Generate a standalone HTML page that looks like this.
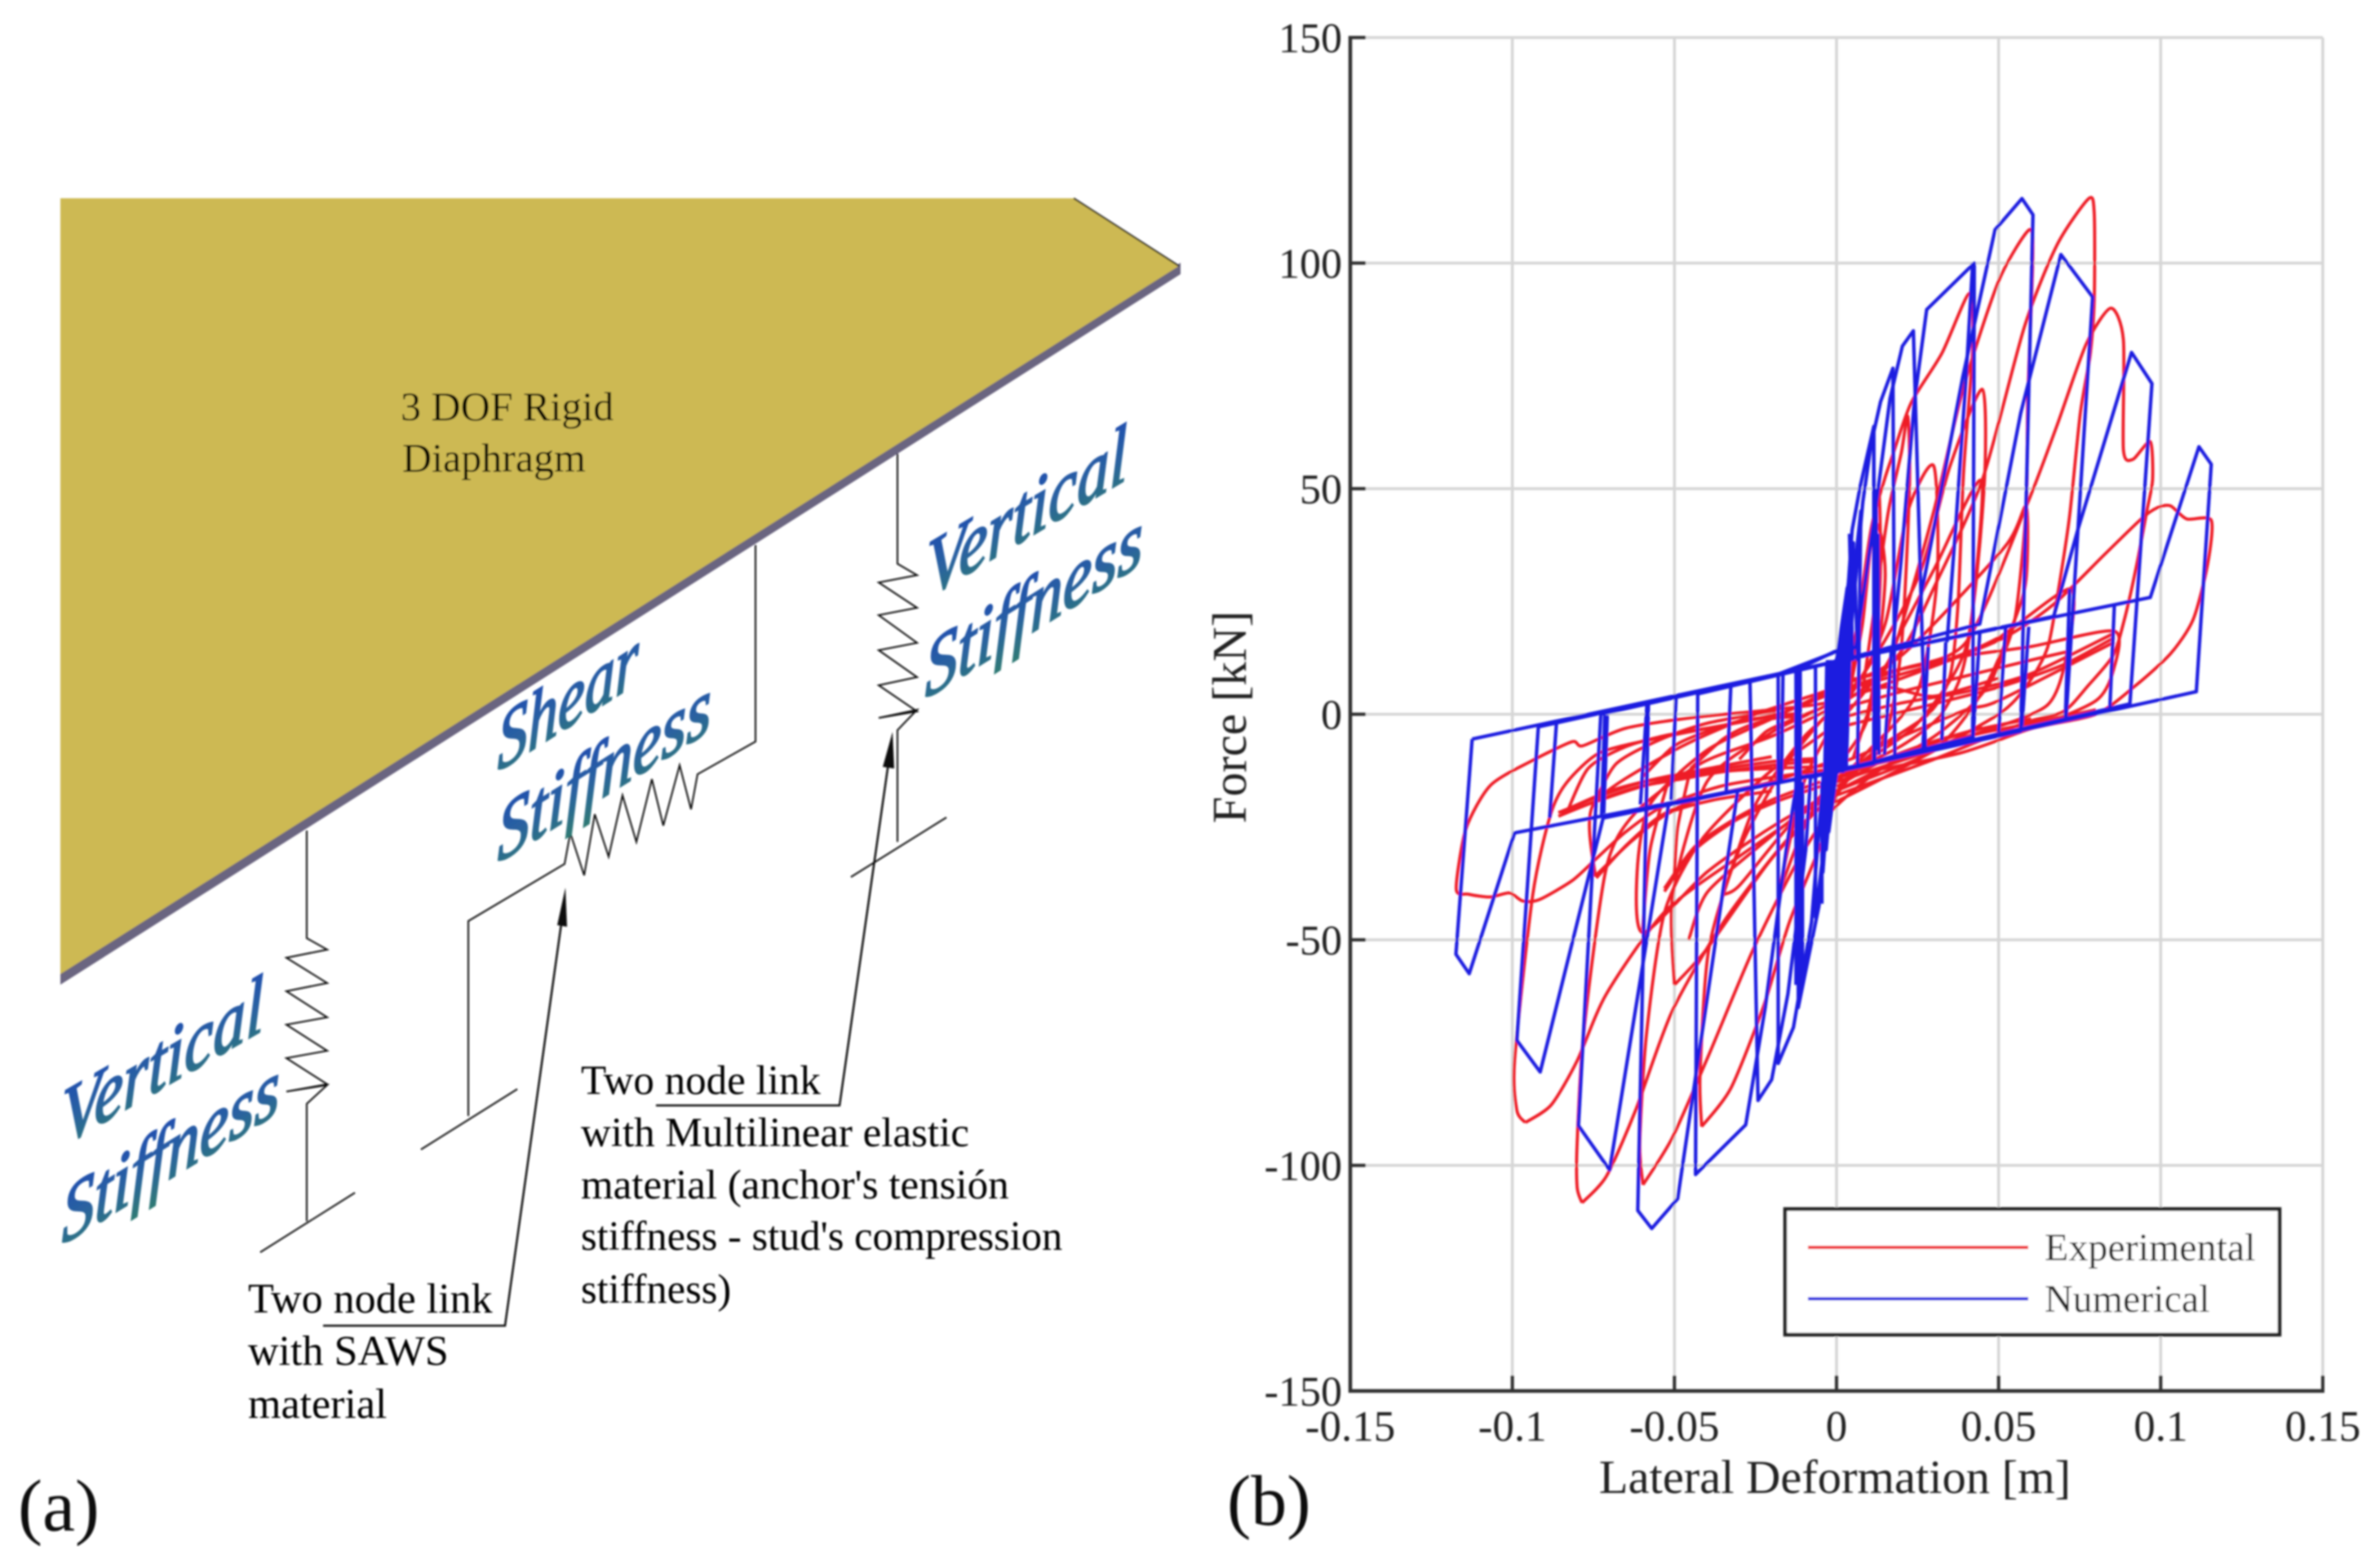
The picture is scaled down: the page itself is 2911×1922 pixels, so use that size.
<!DOCTYPE html>
<html lang="en">
<head>
<meta charset="utf-8">
<title>Rigid diaphragm model and hysteresis comparison</title>
<style>
html,body{margin:0;padding:0;background:#fff}
svg{display:block}
text{font-family:"Liberation Serif",serif}
</style>
</head>
<body>
<svg id="fig" xmlns="http://www.w3.org/2000/svg" width="2911" height="1922" viewBox="0 0 2911 1922">
<defs>
<linearGradient id="wa" x1="0" y1="0" x2="0" y2="1">
<stop offset="0" stop-color="#1c48b4"/><stop offset="0.55" stop-color="#2a62a0"/><stop offset="1" stop-color="#2f7a74"/>
</linearGradient>
<filter id="soft" x="0" y="0" width="100%" height="100%"><feGaussianBlur stdDeviation="1"/></filter>
</defs>
<rect width="2911" height="1922" fill="#fff"/>
<g id="root" filter="url(#soft)">

<g>
<polygon points="1447,322 1447,336 74,1207 74,1190" fill="#6b6580"/>
<polygon points="74,243 1316,243 1445,326 74,1194" fill="#cdb952"/>
<line x1="1316" y1="243" x2="1445" y2="326" stroke="#222" stroke-width="2"/>
<text x="491" y="515" font-size="50" fill="#000">3 DOF Rigid</text>
<text x="493" y="578" font-size="50" fill="#000">Diaphragm</text>

<polyline fill="none" stroke="#111" stroke-width="2" points="1100,556 1100,691 1124,705 1077,714 1124,745 1077,754 1124,788 1077,797 1124,830 1077,840 1124,872 1077,880 1124,870 1100,895 1100,1032"/>
<line x1="1043" y1="1075" x2="1160" y2="1002" stroke="#111" stroke-width="2"/>
<polyline fill="none" stroke="#111" stroke-width="2" points="926,668 926,909 855,949 847,992 833,938 813,1012 799,955 780,1032 763,975 746,1050 729,998 716,1073 699,1021 692,1059 574,1129 574,1368"/>
<line x1="516" y1="1409" x2="634" y2="1335" stroke="#111" stroke-width="2"/>
<polyline fill="none" stroke="#111" stroke-width="2" points="376,1018 376,1150 401,1164 351,1174 401,1205 351,1215 401,1247 351,1256 401,1288 351,1297 401,1329 351,1338 401,1330 376,1353 376,1497"/>
<line x1="319" y1="1535" x2="435" y2="1462" stroke="#111" stroke-width="2"/>

<polyline fill="none" stroke="#111" stroke-width="2.5" points="396,1625 619,1625 689,1125"/>
<polygon points="693,1088 683,1134 695,1136" fill="#111"/>
<polyline fill="none" stroke="#111" stroke-width="2.5" points="804,1355 1029,1355 1089,935"/>
<polygon points="1094,897 1082,940 1096,942" fill="#111"/>

<text x="304" y="1609" font-size="52" fill="#000">Two node link</text>
<text x="304" y="1673" font-size="52" fill="#000">with SAWS</text>
<text x="304" y="1738" font-size="52" fill="#000">material</text>
<text x="712" y="1341" font-size="51" fill="#000">Two node link</text>
<text x="712" y="1405" font-size="51" fill="#000">with Multilinear elastic</text>
<text x="712" y="1469" font-size="51" fill="#000">material (anchor's tensión</text>
<text x="712" y="1532" font-size="50.5" fill="#000">stiffness - stud's compression</text>
<text x="712" y="1597" font-size="50.5" fill="#000">stiffness)</text>

<g font-style="italic" font-size="100" fill="url(#wa)" stroke="url(#wa)" stroke-width="2.5">
<text transform="matrix(0.79,-0.47,0,1,1136,733)">Vertical</text>
<text transform="matrix(0.80,-0.50,0,1,1134,857)">Stiffness</text>
<text transform="matrix(0.74,-0.47,0,1,610,946)">Shear</text>
<text transform="matrix(0.785,-0.49,0,1,610,1058)">Stiffness</text>
<text transform="matrix(0.795,-0.46,0,1,76,1405)">Vertical</text>
<text transform="matrix(0.80,-0.49,0,1,76,1526)">Stiffness</text>
</g>
<text x="22" y="1876" font-size="90" fill="#111">(a)</text>
</g>

<g id="chart"></g>
<text x="1504" y="1869" font-size="88" fill="#111">(b)</text>
</g>
</svg>
<script>
const xTicks = [-0.15, -0.1, -0.05, 0, 0.05, 0.1, 0.15];
const xTickLabels = ["-0.15", "-0.1", "-0.05", "0", "0.05", "0.1", "0.15"];
const yTicks = [150, 100, 50, 0, -50, -100, -150];
const yTickLabels = ["150", "100", "50", "0", "-50", "-100", "-150"];
const seriesNames = ["Experimental", "Numerical"];
const experimentalLoops = [
[[0,-14],[.0376,-8.7],[.06,-3.2],[.08,0],[.092,6.2],[.103,13.4],[.11,21],[.1145,33.3],[.1156,43],[.108,43.3],[.103,46.2],[.099,45.8],[.094,43.3],[.0828,35.5],[.067,24.4],[.051,16.7],[.024,9],[0,3],[-.0187,1.1],[-.0439,-.7],[-.065,-3.1],[-.0783,-7],[-.0816,-6.1],[-.0942,-10.4],[-.1068,-15.8],[-.1143,-25.4],[-.1173,-38.7],[-.1135,-39.9],[-.1068,-40.5],[-.1009,-39.6],[-.0968,-41.4],[-.0917,-41.1],[-.0816,-36.9],[-.0741,-32],[-.0649,-26],[-.054,-20.6],[-.036,-16],[-.02,-14],[0,-12]],
[[-.096,-90.5],[-.0986,-87.8],[-.0993,-76.8],[-.0937,-40],[-.0883,-22.4],[-.0833,-15.2],[-.0732,-8.6],[-.0565,-5.5],[-.0397,-3.1],[-.0187,-.1],[0,5],[.02,10],[.04,16],[.0585,46],[.068,64],[.077,82],[.0846,90],[.0885,83],[.0885,58.7],[.0914,56.5],[.0968,60.4],[.0975,52],[.0958,45.3],[.0924,32.4],[.0887,20.7],[.0853,13],[.0778,6.5],[.07,.6],[.0576,-2],[.03,-10],[0,-18],[-.01,-21.8],[-.03,-31.5],[-.053,-43.8],[-.071,-62],[-.08,-76.8],[-.088,-86.6],[-.096,-90.5]],
[[-.0785,-108.3],[-.08,-104.9],[-.08,-95],[-.078,-70.7],[-.071,-34],[-.062,-21.8],[-.0416,-10.8],[-.019,-4.6],[.005,4],[.02,14],[.03,28],[.045,52],[.058,86],[.068,104],[.0778,114.3],[.0795,111],[.0795,92],[.0783,80],[.0752,66.7],[.0719,44],[.0685,27.8],[.0652,15],[.0593,7],[.05,0],[.02,-12],[0,-19.3],[-.003,-19.3],[-.0167,-29],[-.0348,-46],[-.0507,-65.8],[-.062,-87.8],[-.071,-102.4],[-.0785,-108.3]],
[[-.0597,-104.3],[-.0607,-95],[-.0586,-70.7],[-.053,-43.8],[-.0416,-27.8],[-.0213,-13.2],[0,-2],[.012,8],[.018,15],[.03,45],[.039,72],[.05,96],[.0595,107.4],[.0605,100],[.059,70],[.0585,46],[.055,21],[.0484,8.4],[.0417,2],[.03,-5],[.012,-13],[-.002,-21.8],[-.0122,-32.8],[-.0258,-52.3],[-.0394,-75.5],[-.0507,-93.9],[-.0597,-104.3]],
[[-.0416,-91.4],[-.0421,-80],[-.0394,-52],[-.03,-30],[-.0164,-12],[-.003,0],[.004,5],[.0056,15],[.0106,40.8],[.0148,52],[.0174,57.6],[.023,69],[.0325,80],[.041,93.3],[.042,81],[.0392,53.8],[.0375,24.6],[.035,8.4],[.0283,0],[.012,-8],[0,-18],[-.0043,-27.9],[-.0145,-46],[-.0224,-64.5],[-.0326,-82.9],[-.0416,-91.4]],
[[-.0744,-36],[-.075,-20],[-.05,-8],[-.025,0],[0,6],[.02,13],[.0518,37],[.0585,46],[.0585,30],[.055,21],[.045,5],[.03,-8],[0,-17],[-.02,-25],[-.04,-35],[-.0597,-48.4],[-.0615,-35],[-.0575,-20],[-.04,-8],[-.02,-1],[0,6]],
[[.0174,15],[.03,32],[.0446,51.8],[.0417,21.4],[.0383,8.4],[.0316,-.6],[.02,-7],[0,-14]],
[[0,7],[.02,10],[.04,13],[.06,15],[.0857,18.4],[.0855,10],[.08,3],[.06,-3],[.03,-8],[0,-13]],
[[0,-1],[.02,2.5],[.04,5],[.06,9],[.0857,18]],
[[0,-3],[.02,.5],[.05,6],[.07,11],[.0857,17]],
[[0,1],[.02,5],[.04,8.5],[.06,12],[.072,14]],
[[0,3],[.015,6],[.03,4],[.05,8]],
[[0,5],[.03,11],[.05,17],[.072,27.8],[.0715,15],[.065,2],[.04,-5],[.015,-10]],
[[0,-17],[.02,-10],[.04,-5],[.06,-2],[.08,1]],
[[0,-15],[.03,-8],[.05,-4.5],[.07,-1]],
[[0,-14],[.02,-9],[.04,-4],[.06,-1]],
[[0,-16],[.015,-10],[.03,-6],[.045,-3]],
[[-.085,-22],[-.06,-16],[-.04,-13],[-.02,-12],[0,-11],[.02,-5],[.04,1],[.05,3],[.0857,16]],
[[-.0858,-21.8],[-.0732,-18.2],[-.0607,-15.2],[-.0481,-13.7],[-.0363,-12.2],[-.0187,-10.4],[-.0061,-9.8]],
[[-.0858,-22.6],[-.0732,-19],[-.0607,-16],[-.0481,-14.4],[-.0363,-12.9],[-.0187,-11.2],[-.0061,-10.4]],
[[-.083,-21],[-.07,-17],[-.055,-14.2],[-.0363,-11.6],[-.02,-9.4]],
[[-.0833,-22],[-.0766,-12],[-.065,-7.2],[-.052,-4.6],[-.035,-2.5],[-.0187,0]],
[[-.075,-20],[-.068,-11],[-.055,-5.8],[-.04,-2],[-.0187,.8]],
[[-.06,-14],[-.05,-7],[-.04,-3.8],[-.03,-1.5],[-.02,-.5],[-.012,.2]],
[[-.045,-12],[-.035,-5.5],[-.028,-2.8],[-.02,-1],[-.012,-.5]],
[[-.03,-10],[-.022,-4],[-.015,-1.6],[-.006,1]],
[[-.0741,-36.3],[-.0648,-29],[-.054,-22.4],[-.0397,-18.2],[-.02,-15],[0,-10]],
[[-.0741,-35.6],[-.063,-28],[-.052,-22],[-.038,-19],[-.02,-17]],
[[-.0531,-39.3],[-.0439,-30.2],[-.0313,-23.6],[-.0187,-19.4],[-.005,-16]],
[[-.0531,-38.6],[-.0435,-29.2],[-.03,-22.6],[-.0187,-18.6],[-.005,-15]],
[[-.0456,-50],[-.0397,-39.3],[-.0204,-27.2],[-.008,-20]],
[[-.0598,-47.7],[-.0575,-30],[-.052,-15]],
[[-.05,-35.7],[-.049,-25],[-.045,-12]],
[[-.035,-40],[-.025,-20],[-.01,-5],[.005,5],[.015,20],[.022,45],[.03,55],[.031,30],[.025,5],[.01,-8],[0,-15],[-.015,-25],[-.03,-38],[-.035,-40]],
[[-.05,-60],[-.0505,-40],[-.04,-15],[-.02,-4],[.005,6],[.025,30],[.035,55],[.045,72],[.0455,50],[.04,15],[.025,-2],[.01,-10],[0,-17],[-.02,-32],[-.04,-52],[-.05,-60]],
[[-.018,-40],[-.01,-15],[0,0],[.006,18],[.012,42],[.015,30],[.01,0],[0,-12],[-.01,-25],[-.018,-40]],
[[.008,5],[.012,25],[.016,45],[.02,58],[.022,66],[.0225,50],[.02,15],[.015,-5],[.005,-12]],
[[.004,5],[.008,20],[.0106,38],[.013,50],[.0135,30],[.011,5],[.005,-10]]
];
const numericalLoops = [
[[-.1124,-5.5],[-.1174,-53.2],[-.1133,-57.5],[-.0993,-26.3],[0,-12.6],[.111,5],[.1156,55.4],[.1118,59.3],[.0968,25.9],[0,11.7],[-.1124,-5.5]],
[[-.092,-2.8],[-.0986,-72.3],[-.0914,-79.3],[-.072,-23],[0,-12.6],[.0905,2.3],[.0973,73.3],[.091,80.2],[.0744,40.8],[.067,21.7],[0,11.7],[-.092,-2.8]],
[[-.0727,0],[-.0796,-91.2],[-.07,-101],[-.0518,-20],[0,-12.6],[.0708,-1],[.079,92.5],[.0692,101.9],[.0568,66.7],[.0442,20],[0,11.7],[-.0727,0]],
[[-.058,2.6],[-.0613,-110],[-.057,-114],[-.049,-107.4],[-.0305,-17],[0,-12.6],[.0568,-3.8],[.0606,110.7],[.0572,114.3],[.0489,107.4],[.039,75],[.0232,15.5],[0,11.7],[-.058,2.6]],
[[-.0428,4.5],[-.0435,-102],[-.028,-91],[-.022,-65],[-.0155,-30],[-.012,-14],[0,-12.6],[.042,-5],[.0425,100],[.0278,89.7],[.024,69.3],[.0199,34],[.0174,15],[0,11.7],[-.0428,4.5]],
[[-.0267,7.5],[-.0242,-85.6],[-.02,-81],[-.015,-62],[-.0095,-30],[-.008,-14],[0,-12.6],[.0274,-7.5],[.0237,85],[.0203,81.6],[.0165,70],[.0123,47],[.006,15],[0,11.7],[-.0267,7.5]],
[[-.018,8.9],[-.018,-77.4],[-.0133,-69.4],[-.0077,-46],[-.004,-13],[.018,-9.5],[.0174,76.7],[.0136,69.3],[.0107,60],[.0081,47],[.004,15],[-.018,8.9]],
[[-.0118,10],[-.0118,-65],[-.0054,-42.5],[-.002,-13],[.0115,-11],[.0115,63.8],[.0073,50.5],[.0048,40.8],[.0023,14.9],[-.0118,10]],
[[-.0065,10.7],[-.0065,-45],[-.003,-24],[-.002,-13],[.0065,-11.5],[.0075,45],[.004,22],[.002,12],[-.0065,10.7]],
[[-.003,11.3],[-.0042,-35],[-.002,-13],[.003,-12.3],[.0052,38],[.0015,12],[-.003,11.3]],
[[-.002,11.3],[-.0032,-30],[-.001,-13],[.002,-12.3],[.0042,32],[.0005,12],[-.002,11.3]],
[[-.001,11.5],[-.0024,-26],[0,-13],[.001,-12.5],[.0033,28],[0,12],[-.001,11.5]],
[[-.0028,12],[-.0028,-13]],
[[-.002,12],[-.002,-13]],
[[-.0012,12],[-.0012,-13]],
[[-.0004,12],[-.0004,-13]],
[[.0004,12],[.0004,-13]],
[[.0012,12],[.0012,-13]],
[[.002,12],[.002,-13]],
[[.0341,16],[.0367,40.8],[.04,75],[.042,100]],
[[.0115,63.8],[.0118,-11]],
[[.0122,50],[.0125,-8]],
[[.0128,40],[.0131,-9]],
[[.004,40],[.005,11.8]],
[[.0055,35],[.0065,11.8]],
[[-.0125,10],[-.0125,-60]],
[[-.0112,9.8],[-.0112,-62]],
[[-.0105,-15],[-.0105,-60]],
[[-.0045,-15],[-.0045,-42]],
[[-.0864,-2],[-.0885,-23]],
[[-.0715,-.2],[-.0725,-23]],
[[-.0707,-.2],[-.0718,-22]],
[[-.0585,2],[-.0605,-20]],
[[-.0495,3.5],[-.051,-19]],
[[-.0326,6.5],[-.034,-17]],
[[-.0165,9.5],[-.017,-15]],
[[.0169,14],[.0148,-9]],
[[.0283,15],[.0266,-7.8]],
[[.0337,16],[.0325,-5.8]],
[[.0442,18],[.0421,-5.2]],
[[.0522,19.4],[.05,-3.9]],
[[.0593,19.4],[.0572,-2.6]],
[[.0719,27.8],[.0706,-.6]],
[[.0857,24],[.0843,1.3]]
];

const NS = "http://www.w3.org/2000/svg";
const chart = document.getElementById("chart");
const plotLeft = 1655, plotRight = 2847, plotTop = 46, plotBottom = 1705;
function xScale(v){ return plotLeft + (v - xTicks[0]) / (xTicks[xTicks.length-1] - xTicks[0]) * (plotRight - plotLeft); }
function yScale(v){ return plotBottom - (v - yTicks[yTicks.length-1]) / (yTicks[0] - yTicks[yTicks.length-1]) * (plotBottom - plotTop); }
function make(tag, attrs, text){
  const el = document.createElementNS(NS, tag);
  for (const k in attrs) el.setAttribute(k, attrs[k]);
  if (text !== undefined) el.textContent = text;
  return el;
}
function linePath(pts){
  return pts.map((p,i)=>(i?"L":"M")+xScale(p[0]).toFixed(1)+" "+yScale(p[1]).toFixed(1)).join("");
}
function smoothPath(pts){
  const q = pts.map(p=>[xScale(p[0]),yScale(p[1])]);
  let d = "M"+q[0][0].toFixed(1)+" "+q[0][1].toFixed(1);
  for (let i=0;i<q.length-1;i++){
    const a=q[Math.max(i-1,0)],b=q[i],c=q[i+1],e=q[Math.min(i+2,q.length-1)];
    const c1=[b[0]+(c[0]-a[0])/8,b[1]+(c[1]-a[1])/8], c2=[c[0]-(e[0]-b[0])/8,c[1]-(e[1]-b[1])/8];
    d+="C"+c1[0].toFixed(1)+" "+c1[1].toFixed(1)+" "+c2[0].toFixed(1)+" "+c2[1].toFixed(1)+" "+c[0].toFixed(1)+" "+c[1].toFixed(1);
  }
  return d;
}

xTicks.forEach(function(v,i){
  const g = make("line",{x1:xScale(v),x2:xScale(v),y1:plotTop,y2:plotBottom,stroke:"#d6d6d6","stroke-width":3.5});
  
  
  chart.appendChild(g);
});
yTicks.forEach(function(v,i){
  const g = make("line",{x1:plotLeft,x2:plotRight,y1:yScale(v),y2:yScale(v),stroke:"#d6d6d6","stroke-width":3.5});
  
  
  chart.appendChild(g);
});

experimentalLoops.forEach(function(loop){
  const p = make("path",{d:smoothPath(loop),fill:"none",stroke:"#ee1c25","stroke-width":3.8,"stroke-linejoin":"round"});
  
  
  chart.appendChild(p);
});
numericalLoops.forEach(function(loop){
  const p = make("path",{d:linePath(loop),fill:"none",stroke:"#1a1ee0","stroke-width":4.2,"stroke-linejoin":"round"});
  
  
  chart.appendChild(p);
});

const xAxis = make("line",{x1:plotLeft-2,x2:plotRight+2,y1:plotBottom,y2:plotBottom,stroke:"#333","stroke-width":4.5});


chart.appendChild(xAxis);
const yAxis = make("line",{x1:plotLeft,x2:plotLeft,y1:plotTop-2,y2:plotBottom+2,stroke:"#333","stroke-width":4.5});


chart.appendChild(yAxis);

xTicks.forEach(function(v,i){
  const t = make("line",{x1:xScale(v),x2:xScale(v),y1:plotBottom,y2:plotBottom-19,stroke:"#333","stroke-width":4});
  
  
  chart.appendChild(t);
  const l = make("text",{x:xScale(v),y:1766,"font-size":53,"text-anchor":"middle",fill:"#222"},xTickLabels[i]);
  
  
  chart.appendChild(l);
});
yTicks.forEach(function(v,i){
  const t = make("line",{x1:plotLeft,x2:plotLeft+19,y1:yScale(v),y2:yScale(v),stroke:"#333","stroke-width":4});
  
  
  chart.appendChild(t);
  const l = make("text",{x:1645,y:yScale(v)+18,"font-size":52,"text-anchor":"end",fill:"#222"},yTickLabels[i]);
  
  
  chart.appendChild(l);
});

const xTitle = make("text",{x:2249,y:1830,"font-size":58.5,"text-anchor":"middle",fill:"#222"},"Lateral Deformation [m]");


chart.appendChild(xTitle);
const yTitle = make("text",{transform:"translate(1527,879) rotate(-90)","font-size":59,"text-anchor":"middle",fill:"#222"},"Force [kN]");


chart.appendChild(yTitle);

const legendBox = make("rect",{x:2188,y:1482,width:606,height:154,fill:"#fff",stroke:"#222","stroke-width":4.5});


chart.appendChild(legendBox);
const legendColors = ["#ee1c25", "#1a1ee0"];
seriesNames.forEach(function(name,i){
  const yy = 1529 + i*63;
  const ln = make("line",{x1:2216,x2:2486,y1:yy,y2:yy,stroke:legendColors[i],"stroke-width":4});
  
  
  chart.appendChild(ln);
  const tx = make("text",{x:2506,y:yy+16,"font-size":48,fill:"#222"},name);
  
  
  chart.appendChild(tx);
});
</script>
</body>
</html>
